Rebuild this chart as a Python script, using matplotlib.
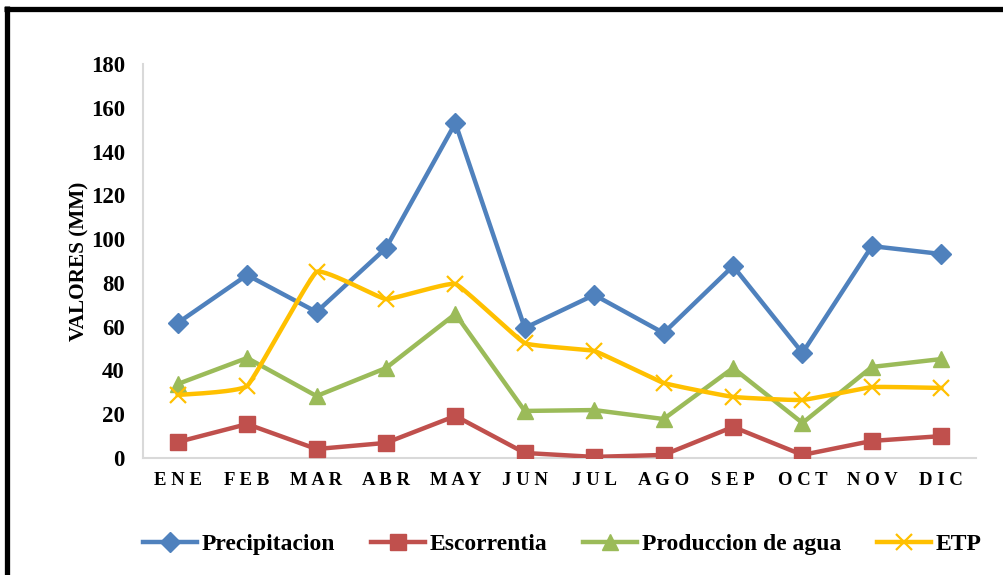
import numpy as np
import matplotlib
matplotlib.use("Agg")
import matplotlib.pyplot as plt
from matplotlib.lines import Line2D

months = ["ENE", "FEB", "MAR", "ABR", "MAY", "JUN", "JUL", "AGO", "SEP", "OCT", "NOV", "DIC"]
precipitacion = [61.7, 83.6, 66.7, 95.9, 153.0, 59.4, 74.5, 57.1, 87.7, 48.0, 96.8, 93.2]
escorrentia = [7.3, 15.5, 4.1, 6.9, 19.2, 2.3, 0.5, 1.4, 14.2, 1.4, 7.8, 10.0]
produccion = [33.8, 45.7, 28.3, 41.1, 65.8, 21.5, 21.9, 17.8, 41.1, 16.0, 41.6, 45.2]
etp = [28.8, 32.9, 85.0, 72.6, 79.5, 52.5, 48.9, 34.3, 27.9, 26.5, 32.4, 32.0]
yticks = [0, 20, 40, 60, 80, 100, 120, 140, 160, 180]

BLUE, RED, GREEN, GOLD = "#4F81BD", "#C0504D", "#9BBB59", "#FFC000"
SERIF = ["Liberation Serif", "DejaVu Serif"]

plt.rcParams["font.family"] = SERIF
plt.rcParams["font.weight"] = "bold"


def smooth(x, y, n=30, t=0.05):
    """Cardinal (Bezier) spline through the points, like a smoothed chart line."""
    x = np.asarray(x, float)
    y = np.asarray(y, float)
    px = np.concatenate([[x[0]], x, [x[-1]]])
    py = np.concatenate([[y[0]], y, [y[-1]]])
    xs, ys = [], []
    s = np.linspace(0, 1, n)
    for i in range(1, len(x)):
        p0 = np.array([px[i], py[i]])
        p3 = np.array([px[i + 1], py[i + 1]])
        p1 = p0 + t * (np.array([px[i + 1], py[i + 1]]) - np.array([px[i - 1], py[i - 1]]))
        p2 = p3 - t * (np.array([px[i + 2], py[i + 2]]) - np.array([px[i], py[i]]))
        b = ((1 - s) ** 3)[:, None] * p0 + (3 * (1 - s) ** 2 * s)[:, None] * p1 \
            + (3 * (1 - s) * s ** 2)[:, None] * p2 + (s ** 3)[:, None] * p3
        xs.extend(b[:, 0])
        ys.extend(b[:, 1])
    return np.array(xs), np.array(ys)


fig = plt.figure(figsize=(10.04, 5.75), dpi=100)
ax = fig.add_axes([143 / 1004, 117 / 575, 833 / 1004, 394 / 575])

x = np.arange(len(months))
lw = 3.2
ax.plot(x, precipitacion, color=BLUE, lw=lw, marker="D", ms=10, zorder=5)
ax.plot(x, escorrentia, color=RED, lw=lw, marker="s", ms=11, zorder=5)
ax.plot(x, produccion, color=GREEN, lw=lw, marker="^", ms=12, zorder=5)
sx, sy = smooth(x, etp)
ax.plot(sx, sy, color=GOLD, lw=lw, zorder=5)
ax.plot(x, etp, ls="none", color=GOLD, marker="x", ms=11, mew=1.6, zorder=6)

ax.set_xlim(-0.5, len(months) - 0.5)
ax.set_ylim(0, 180)
ax.set_yticks(yticks)
ax.set_yticklabels([str(v) for v in yticks], fontsize=16.5, fontweight="bold")
ax.set_xticks(x)
ax.set_xticklabels([" ".join(m) for m in months], fontsize=13.5, fontweight="bold")
ax.tick_params(axis="both", length=0)
ax.tick_params(axis="y", pad=13)
ax.tick_params(axis="x", pad=10)
ax.set_ylabel("VALORES (MM)", fontsize=15.3, fontweight="bold", labelpad=1)

for side in ["top", "right"]:
    ax.spines[side].set_visible(False)
for side in ["left", "bottom"]:
    ax.spines[side].set_color("#D9D9D9")
    ax.spines[side].set_linewidth(1.5)

handles = [
    Line2D([], [], color=BLUE, lw=lw, marker="D", ms=10),
    Line2D([], [], color=RED, lw=lw, marker="s", ms=11),
    Line2D([], [], color=GREEN, lw=lw, marker="^", ms=12),
    Line2D([], [], color=GOLD, lw=lw, marker="x", ms=11, mew=1.6),
]
labels = ["Precipitacion", "Escorrentia", "Produccion de agua", "ETP"]
fig.legend(handles, labels, loc="center", bbox_to_anchor=(562 / 1004, 1 - 544 / 575),
           ncol=4, frameon=False, handlelength=2.3, handletextpad=0.2,
           columnspacing=1.5, prop={"family": SERIF, "weight": "bold", "size": 17})

# Outer frame: thick black rule along the top and left edges
fig.add_artist(Line2D([4 / 1004, 1.0], [1 - 8.5 / 575] * 2, transform=fig.transFigure,
                      color="black", lw=3.8, solid_capstyle="butt"))
fig.add_artist(Line2D([6.5 / 1004] * 2, [0.0, 1 - 6 / 575], transform=fig.transFigure,
                      color="black", lw=3.8, solid_capstyle="butt"))

fig.savefig("out.png", dpi=100, facecolor="white")
